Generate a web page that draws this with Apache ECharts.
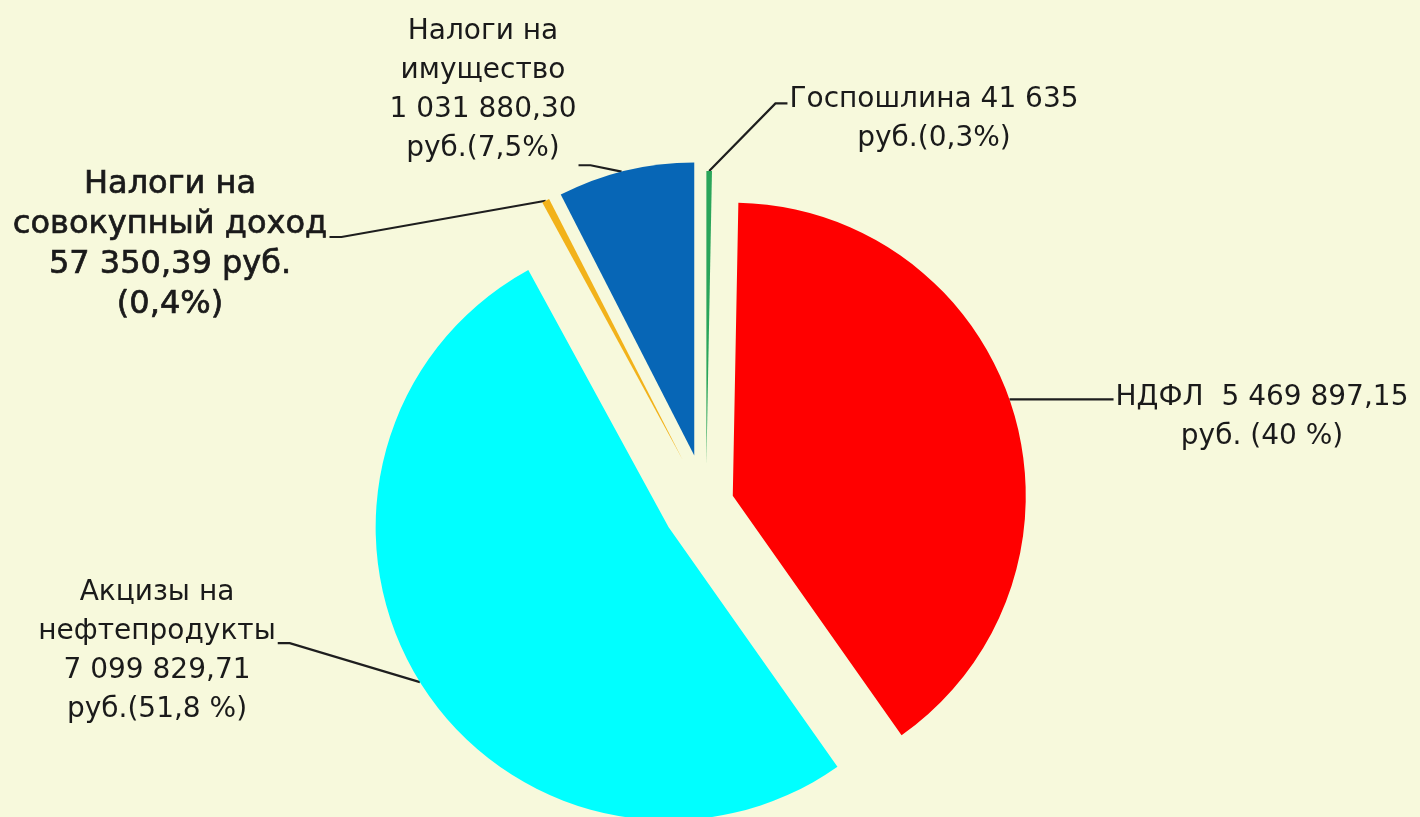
<!DOCTYPE html>
<html>
<head>
<meta charset="utf-8">
<title>Налоговые доходы</title>
<script src="https://cdn.jsdelivr.net/npm/echarts@6/dist/echarts.min.js"></script>
<style>
  html, body { margin: 0; padding: 0; background: #F7F9DC; }
  #chart { width: 1420px; height: 817px; }
</style>
</head>
<body>
<div id="chart"></div>
<script>
// данные (по часовой стрелке от верха)
const names = ['Госпошлина', 'НДФЛ', 'Акцизы на нефтепродукты', 'Налоги на совокупный доход', 'Налоги на имущество'];
const values = [41635, 5469897.15, 7099829.71, 57350.39, 1031880.30];
const labelTexts = [
  'Госпошлина 41 635\nруб.(0,3%)',
  'НДФЛ  5 469 897,15\nруб. (40 %)',
  'Акцизы на\nнефтепродукты\n7 099 829,71\nруб.(51,8 %)',
  'Налоги на\nсовокупный доход\n57 350,39 руб.\n(0,4%)',
  'Налоги на\nимущество\n1 031 880,30\nруб.(7,5%)'
];
const colors = ['#2AA55A', '#FF0000', '#00FFFF', '#F2B21A', '#0766B6'];

// оформление
const pieCenter = [706, 504];
const pieRadius = 293;
const explode = [40, 28, 44, 50, 50];          // вынос секторов
const labelPos = [[934, 80], [1262, 378], [157, 573], [170, 165], [483, 12]]; // центр x, верх y
// к какой стороне подписи и к какой строке идёт выноска, и где она касается дуги
const leader = [
  { side: 'left', line: 0.1, frac: 0.5 },
  { side: 'left', line: 0.05, frac: 0.485 },
  { side: 'right', line: 1.3, frac: 0.5 },
  { side: 'right', line: 1.3, frac: 0.5 },
  { side: 'right', line: 3.43, frac: 0.47 }
];

const total = values.reduce((a, b) => a + b, 0);
let acc = 0;
const arcs = values.map(v => {
  const start = 90 - acc / total * 360;
  acc += v;
  return { start: start, end: 90 - acc / total * 360 };
});

const myChart = echarts.init(document.getElementById('chart'));

const series = values.map((v, i) => {
  const mid = (arcs[i].start + arcs[i].end) / 2 * Math.PI / 180;
  const cx = pieCenter[0] + explode[i] * Math.cos(mid);
  const cy = pieCenter[1] - explode[i] * Math.sin(mid);
  const big = i === 3;
  const lh = big ? 40 : 39;

  const data = names.map((n, j) => ({
    name: n,
    value: values[j],
    itemStyle: { color: j === i ? colors[j] : 'rgba(0,0,0,0)' },
    label: { show: j === i },
    labelLine: { show: j === i }
  }));

  return {
    type: 'pie',
    center: [cx, cy],
    radius: pieRadius,
    startAngle: 90,
    clockwise: true,
    silent: true,
    avoidLabelOverlap: false,
    emphasis: { disabled: true },
    itemStyle: { borderWidth: 0 },
    label: {
      position: 'outside',
      formatter: p => labelTexts[p.dataIndex],
      fontFamily: 'DejaVu Sans',
      fontSize: big ? 32 : 28,
      lineHeight: lh,
      color: '#1a1a1a',
      textBorderColor: big ? '#1a1a1a' : 'transparent',
      textBorderWidth: big ? 0.7 : 0,
      align: 'center'
    },
    labelLine: {
      length: 10,
      length2: 12,
      lineStyle: { color: '#1e1e1e', width: 2.2 }
    },
    labelLayout: function (params) {
      if (params.dataIndex !== i) return {};
      const pos = labelPos[i];
      const w = params.labelRect.width;
      const ld = leader[i];
      const ay = pos[1] + lh * (ld.line + 0.5);
      const ax = ld.side === 'left' ? pos[0] - w / 2 - 2 : pos[0] + w / 2 + 2;
      const turn = ld.side === 'left' ? ax - 12 : ax + 12;
      const ang = (arcs[i].start + ld.frac * (arcs[i].end - arcs[i].start)) * Math.PI / 180;
      const onArc = [cx + pieRadius * Math.cos(ang), cy - pieRadius * Math.sin(ang)];
      return {
        x: pos[0],
        y: pos[1],
        align: 'center',
        verticalAlign: 'top',
        labelLinePoints: [onArc, [turn, ay], [ax, ay]]
      };
    },
    data: data
  };
});

myChart.setOption({
  backgroundColor: '#F7F9DC',
  animation: false,
  series: series
});
window.onresize = function () {
  myChart.resize();
};
</script>
</body>
</html>
